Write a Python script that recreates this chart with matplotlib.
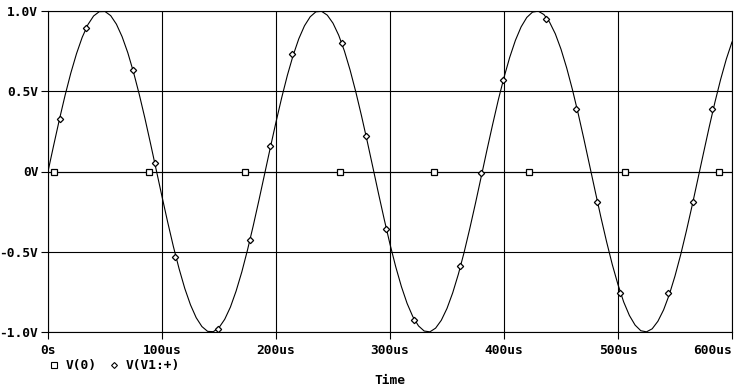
import numpy as np
import matplotlib
matplotlib.use("Agg")
import matplotlib.pyplot as plt
from matplotlib.lines import Line2D

# sine V(V1:+) read every 5us from the picture
t_us = np.arange(0, 601, 5)
v_src = [0.000, 0.164, 0.324, 0.475, 0.613, 0.734, 0.836, 0.915, 0.969, 0.996,
         0.997, 0.971, 0.918, 0.840, 0.740, 0.619, 0.482, 0.332, 0.172, 0.008,
         -0.156, -0.316, -0.468, -0.606, -0.729, -0.831, -0.911, -0.966, -0.996, -0.998,
         -0.973, -0.921, -0.845, -0.745, -0.626, -0.489, -0.339, -0.180, -0.016, 0.148,
         0.308, 0.460, 0.600, 0.723, 0.827, 0.908, 0.964, 0.995, 0.998, 0.974,
         0.924, 0.849, 0.751, 0.632, 0.496, 0.347, 0.189, 0.025, -0.140, -0.300,
         -0.453, -0.593, -0.717, -0.822, -0.904, -0.962, -0.994, -0.999, -0.976, -0.927,
         -0.853, -0.756, -0.639, -0.504, -0.355, -0.197, -0.033, 0.132, 0.292, 0.446,
         0.586, 0.711, 0.817, 0.901, 0.960, 0.993, 0.999, 0.978, 0.930, 0.858,
         0.762, 0.645, 0.511, 0.363, 0.205, 0.041, -0.123, -0.285, -0.438, -0.580,
         -0.705, -0.813, -0.897, -0.957, -0.992, -0.999, -0.980, -0.933, -0.862, -0.767,
         -0.651, -0.518, -0.370, -0.213, -0.049, 0.115, 0.277, 0.431, 0.573, 0.700,
         0.807]

# V(0) is flat at zero
v_zero = np.zeros(len(t_us))

# marker positions seen on the curves
sq_t = [5.5, 89, 173, 256, 339, 422, 506, 589]
sq_v = [0, 0, 0, 0, 0, 0, 0, 0]
dm_t = [10.3, 33.6, 74.8, 93.9, 111.4, 148.8, 177, 194.4, 214.3, 258.2,
        278.7, 296.2, 320.8, 361.1, 379.8, 399.1, 436.8, 463.4, 481.6, 502,
        544.1, 565.8, 582.7]
dm_v = [0.325, 0.896, 0.631, 0.05, -0.53, -0.98, -0.425, 0.158, 0.73, 0.80,
        0.22, -0.36, -0.925, -0.59, -0.01, 0.57, 0.95, 0.39, -0.19, -0.76,
        -0.76, -0.19, 0.39]

xticks = [0, 100, 200, 300, 400, 500, 600]
xlabels = ["0s", "100us", "200us", "300us", "400us", "500us", "600us"]
yticks = [-1.0, -0.5, 0, 0.5, 1.0]
ylabels = ["-1.0V", "-0.5V", "0V", "0.5V", "1.0V"]

plt.rcParams['font.family'] = ['DejaVu Sans Mono']
plt.rcParams['font.weight'] = 'bold'
plt.rcParams['font.size'] = 9.3

fig = plt.figure(figsize=(7.36, 3.87), dpi=100)
W, H = 736, 387
ax = fig.add_axes([48/W, (H-332)/H, (732-48)/W, (332-11)/H])

ax.plot(t_us, v_zero, color='black', lw=0.8)
ax.plot(t_us, v_src, color='black', lw=0.8)
ax.plot(sq_t, sq_v, ls='none', marker='s', ms=5, mfc='white', mec='black', mew=0.9)
ax.plot(dm_t, dm_v, ls='none', marker='D', ms=3.2, mfc='white', mec='black', mew=0.9)

ax.set_xlim(0, 600)
ax.set_ylim(-1.0, 1.0)
ax.set_xticks(xticks)
ax.set_xticklabels(xlabels)
ax.set_yticks(yticks)
ax.set_yticklabels(ylabels)
ax.grid(True, color='black', lw=0.8)
for s in ax.spines.values():
    s.set_linewidth(0.8)
ax.tick_params(direction='out', length=5, width=0.8, pad=2)
ax.tick_params(axis='x', pad=4)
ax.get_xticklabels()[-1].set_horizontalalignment('right')

handles = [Line2D([], [], ls='none', marker='s', ms=4, mfc='white', mec='black', mew=0.8),
           Line2D([], [], ls='none', marker='D', ms=3, mfc='white', mec='black', mew=0.8)]
fig.legend(handles, ["V(0)", "V(V1:+)"], ncol=2, loc='center left',
           bbox_to_anchor=(42/W, 1 - 366/H), frameon=False,
           handlelength=0.8, handletextpad=0.5, columnspacing=1.0, borderpad=0)

fig.text(390/W, 1 - 381/H, "Time", ha='center', va='center')

fig.savefig("out.png", dpi=100)
